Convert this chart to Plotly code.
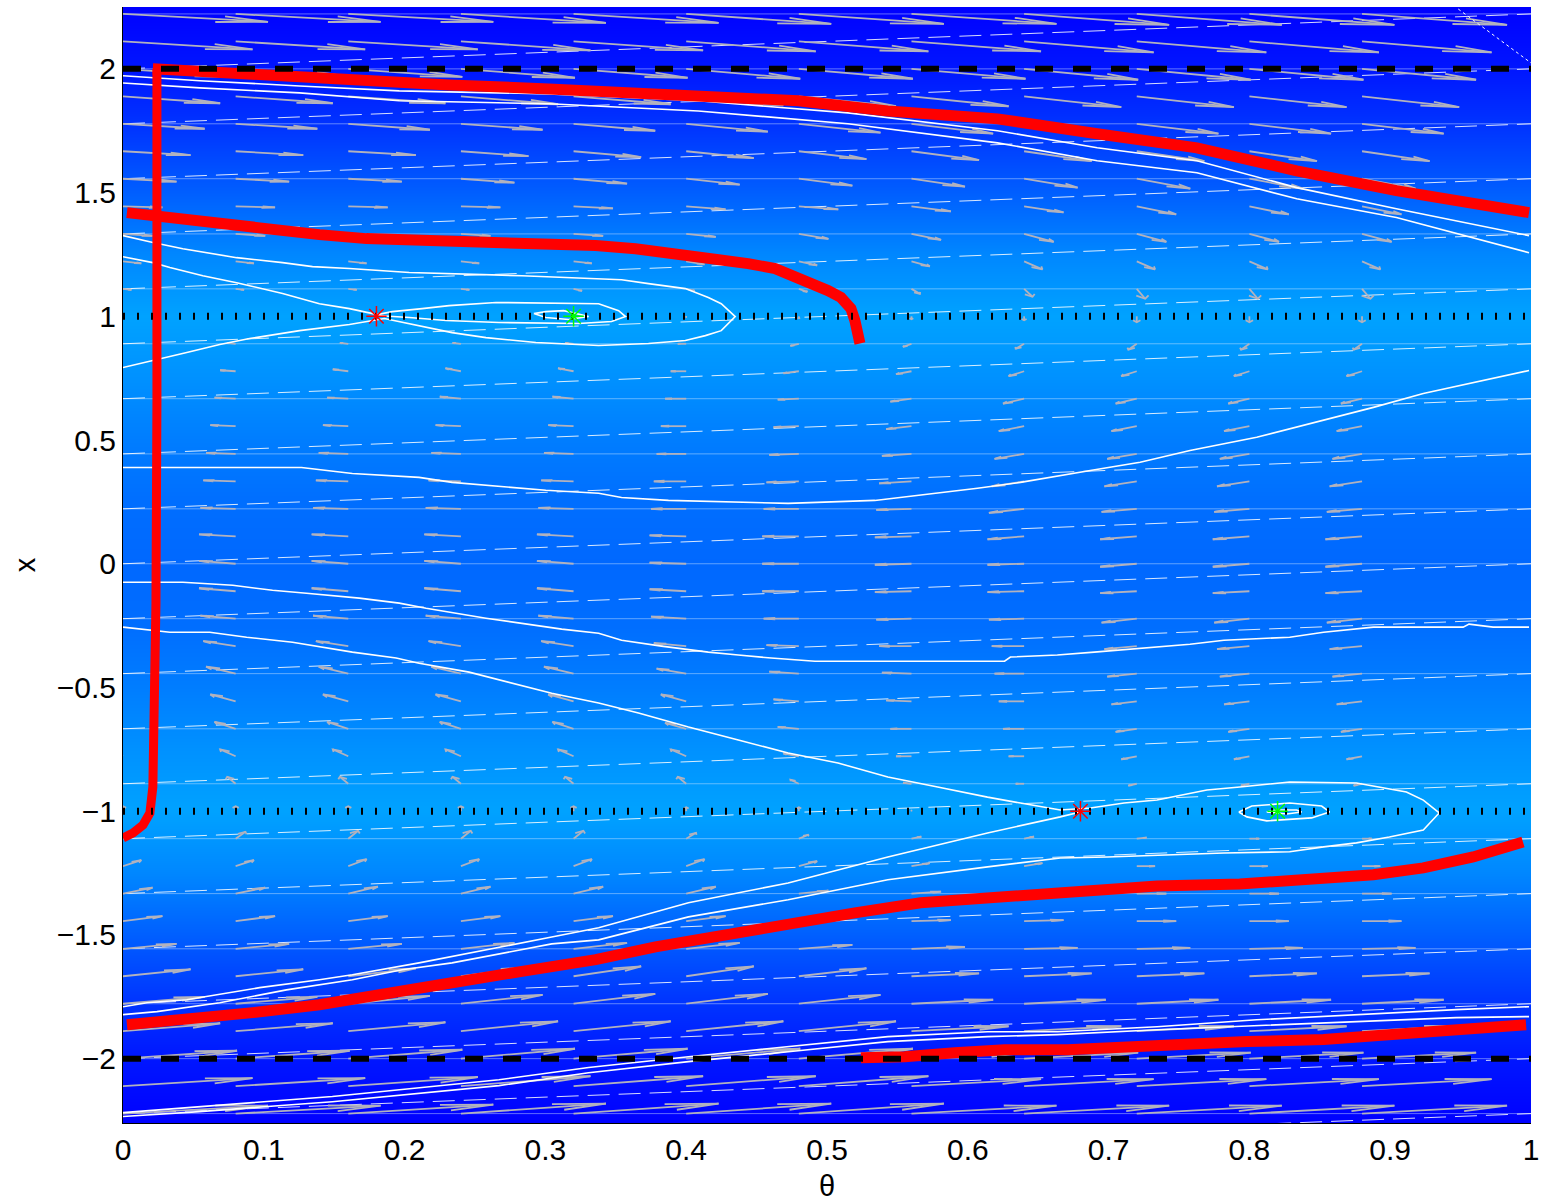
import plotly.graph_objects as go

# ---------------- background (blue -> cyan level vs x) ----------------
bg_x = [-2.26, -2.0, -1.75, -1.5, -1.25, -1.0, -0.75, -0.5, -0.25, 0.0,
        0.25, 0.5, 0.75, 1.0, 1.25, 1.5, 1.75, 2.0, 2.25]
bg_level = [0, 22, 55, 95, 135, 162, 145, 125, 110, 104,
            110, 125, 145, 162, 135, 95, 55, 22, 0]

# mesh seams of the shaded surface
seam_x = [-2.444, -2.222, -2.0, -1.778, -1.556, -1.333, -1.111, -0.889, -0.667,
          -0.444, -0.222, 0.0, 0.222, 0.444, 0.667, 0.889, 1.111, 1.333, 1.556,
          1.778, 2.0, 2.222]

# ---------------- quiver field ----------------
arrow_theta = [0.0, 0.08, 0.16, 0.24, 0.32, 0.40, 0.48, 0.56, 0.64, 0.72, 0.80, 0.88]
arrow_x = [2.222, 2.111, 2.0, 1.889, 1.778, 1.667, 1.556, 1.444, 1.333, 1.222,
           1.111, 1.0, 0.889, 0.778, 0.667, 0.556, 0.444, 0.333, 0.222, 0.111,
           0.0, -0.111, -0.222, -0.333, -0.444, -0.556, -0.667, -0.778, -0.889,
           -1.0, -1.111, -1.222, -1.333, -1.444, -1.556, -1.667, -1.778, -1.889,
           -2.0, -2.111, -2.222]
arrow_dtheta = [0.103, 0.092, 0.081, 0.069, 0.058, 0.048, 0.038, 0.028, 0.021, 0.013,
                0.006, 0.0, -0.006, -0.011, -0.015, -0.018, -0.021, -0.023, -0.025, -0.026,
                -0.026, -0.026, -0.025, -0.023, -0.021, -0.018, -0.015, -0.011, -0.006,
                0.0, 0.007, 0.013, 0.021, 0.028, 0.038, 0.048, 0.058, 0.069, 0.081,
                0.092, 0.103]
arrow_dx = [
    [-0.032, -0.032, -0.032, -0.036, -0.036, -0.040, -0.040, -0.040, -0.044, -0.044, -0.044, -0.044],
    [-0.032, -0.032, -0.032, -0.036, -0.036, -0.040, -0.040, -0.040, -0.044, -0.044, -0.044, -0.044],
    [-0.032, -0.032, -0.032, -0.036, -0.036, -0.040, -0.040, -0.040, -0.044, -0.044, -0.044, -0.044],
    [-0.028, -0.028, -0.028, -0.032, -0.032, -0.036, -0.040, -0.040, -0.044, -0.044, -0.044, -0.044],
    [-0.020, -0.020, -0.024, -0.024, -0.028, -0.032, -0.036, -0.040, -0.040, -0.040, -0.040, -0.040],
    [-0.016, -0.016, -0.016, -0.020, -0.024, -0.028, -0.032, -0.036, -0.040, -0.040, -0.040, -0.040],
    [-0.012, -0.012, -0.012, -0.016, -0.020, -0.024, -0.028, -0.032, -0.036, -0.040, -0.040, -0.040],
    [-0.004, -0.004, -0.004, -0.004, -0.008, -0.012, -0.012, -0.020, -0.024, -0.032, -0.032, -0.032],
    [-0.008, -0.008, -0.008, -0.008, -0.008, -0.012, -0.020, -0.024, -0.032, -0.032, -0.032, -0.032],
    [-0.008, -0.008, -0.008, -0.008, -0.008, -0.012, -0.016, -0.020, -0.032, -0.032, -0.032, -0.032],
    [-0.004, -0.004, -0.004, -0.004, -0.008, -0.008, -0.012, -0.020, -0.032, -0.040, -0.040, -0.040],
    [0.0, 0.0, 0.0, 0.0, 0.0, -0.004, -0.008, -0.012, -0.016, -0.024, -0.024, -0.024],
    [0.004, 0.004, 0.004, 0.004, 0.004, 0.0, -0.008, -0.012, -0.020, -0.024, -0.024, -0.024],
    [0.004, 0.004, 0.008, 0.012, 0.012, 0.0, -0.008, -0.012, -0.020, -0.020, -0.020, -0.020],
    [0.004, 0.004, 0.004, 0.008, 0.008, 0.0, -0.004, -0.012, -0.020, -0.020, -0.020, -0.020],
    [0.004, 0.004, 0.004, 0.004, 0.004, 0.0, -0.004, -0.012, -0.020, -0.020, -0.020, -0.020],
    [0.004, 0.004, 0.004, 0.004, 0.004, 0.0, -0.004, -0.008, -0.020, -0.020, -0.020, -0.020],
    [0.004, 0.004, 0.004, 0.004, 0.004, 0.0, -0.004, -0.008, -0.020, -0.020, -0.020, -0.020],
    [0.004, 0.004, 0.004, 0.004, 0.004, 0.0, 0.0, -0.004, -0.016, -0.012, -0.012, -0.012],
    [0.008, 0.008, 0.008, 0.008, 0.008, 0.004, 0.0, -0.004, -0.012, -0.012, -0.012, -0.012],
    [0.012, 0.012, 0.012, 0.012, 0.012, 0.004, 0.0, -0.004, -0.004, -0.012, -0.012, -0.012],
    [0.012, 0.012, 0.012, 0.012, 0.012, 0.008, 0.0, -0.004, -0.004, -0.008, -0.008, -0.008],
    [0.012, 0.012, 0.012, 0.012, 0.012, 0.008, 0.0, -0.004, -0.004, -0.016, -0.016, -0.016],
    [0.020, 0.020, 0.020, 0.020, 0.020, 0.012, 0.004, 0.0, 0.0, -0.012, -0.012, -0.012],
    [0.028, 0.028, 0.028, 0.028, 0.028, 0.020, 0.008, 0.004, 0.0, -0.012, -0.012, -0.012],
    [0.028, 0.028, 0.028, 0.028, 0.028, 0.028, 0.008, 0.004, 0.0, -0.012, -0.012, -0.012],
    [0.028, 0.028, 0.028, 0.028, 0.028, 0.024, 0.008, 0.0, 0.0, -0.012, -0.012, -0.012],
    [0.028, 0.028, 0.028, 0.028, 0.028, 0.028, 0.012, 0.0, 0.0, -0.012, -0.012, -0.012],
    [0.028, 0.028, 0.028, 0.028, 0.028, 0.028, 0.016, 0.004, 0.0, -0.008, -0.008, -0.008],
    [0.020, 0.020, 0.020, 0.020, 0.020, 0.016, 0.016, 0.004, 0.0, 0.0, 0.0, 0.0],
    [0.028, 0.028, 0.032, 0.032, 0.032, 0.024, 0.016, 0.008, 0.008, 0.004, 0.0, 0.0],
    [0.024, 0.024, 0.028, 0.028, 0.028, 0.028, 0.020, 0.012, 0.012, 0.0, 0.0, 0.0],
    [0.024, 0.024, 0.028, 0.028, 0.028, 0.028, 0.012, 0.008, 0.008, 0.0, 0.0, 0.0],
    [0.020, 0.020, 0.020, 0.020, 0.020, 0.020, 0.012, 0.004, 0.004, 0.0, 0.0, 0.0],
    [0.020, 0.020, 0.020, 0.024, 0.024, 0.024, 0.016, 0.008, 0.004, 0.004, 0.004, 0.004],
    [0.028, 0.028, 0.032, 0.036, 0.040, 0.040, 0.032, 0.012, 0.012, 0.012, 0.012, 0.012],
    [0.028, 0.028, 0.032, 0.036, 0.040, 0.040, 0.036, 0.016, 0.016, 0.016, 0.016, 0.016],
    [0.032, 0.032, 0.036, 0.040, 0.040, 0.040, 0.040, 0.020, 0.020, 0.020, 0.020, 0.020],
    [0.032, 0.032, 0.036, 0.040, 0.040, 0.040, 0.040, 0.024, 0.024, 0.024, 0.024, 0.024],
    [0.032, 0.032, 0.036, 0.040, 0.040, 0.040, 0.040, 0.028, 0.028, 0.028, 0.028, 0.028],
    [0.032, 0.032, 0.036, 0.040, 0.040, 0.040, 0.040, 0.032, 0.032, 0.032, 0.032, 0.032],
]

# ---------------- white contour lines ----------------
contour_top_a_t = [0, 0.0545, 0.1254, 0.1962, 0.3024, 0.4086, 0.5149, 0.6211, 0.6919, 0.7627, 0.8336, 0.9044, 0.9986]
contour_top_a_x = [1.972, 1.952, 1.931, 1.911, 1.899, 1.871, 1.822, 1.75, 1.681, 1.629, 1.52, 1.435, 1.326]
contour_top_b_t = [0, 0.0545, 0.1254, 0.1962, 0.3024, 0.4086, 0.5149, 0.6211, 0.6919, 0.7627, 0.8336, 0.9044, 0.9986]
contour_top_b_x = [1.943, 1.923, 1.903, 1.871, 1.859, 1.83, 1.778, 1.701, 1.629, 1.58, 1.475, 1.399, 1.257]

contour_oval_up_t = [0, 0.0212, 0.0425, 0.0807, 0.1133, 0.1346, 0.1608, 0.2033, 0.2833, 0.3378, 0.3541,
                     0.3732, 0.3994, 0.4157, 0.4249, 0.4348, 0.4249, 0.4136, 0.3994, 0.3732, 0.3378,
                     0.2932, 0.2578, 0.2337, 0.2033, 0.1856, 0.1608, 0.1254, 0.0899, 0.0687, 0.0453,
                     0.0212, 0]
contour_oval_up_x = [1.326, 1.298, 1.273, 1.237, 1.217, 1.201, 1.193, 1.177, 1.164, 1.152, 1.148,
                     1.132, 1.112, 1.076, 1.051, 0.999, 0.942, 0.922, 0.902, 0.89, 0.882,
                     0.894, 0.914, 0.934, 0.971, 0.991, 0.967, 0.942, 0.91, 0.886, 0.854,
                     0.821, 0.793]
contour_lobe_up_t = [0, 0.0212, 0.0333, 0.0567, 0.0807, 0.1133, 0.1395, 0.1608, 0.1806, 0.1912, 0.2125,
                     0.2316, 0.2649, 0.3378, 0.352, 0.3569, 0.347, 0.3237, 0.267, 0.2295, 0.2033, 0.1806]
contour_lobe_up_x = [1.241, 1.217, 1.197, 1.164, 1.136, 1.092, 1.051, 1.031, 1.007, 1.019, 1.031,
                     1.043, 1.056, 1.051, 1.023, 0.999, 0.979, 0.971, 0.975, 0.983, 0.995, 1.003]
contour_inner_up_t = [0.2918, 0.3003, 0.313, 0.3307, 0.3166, 0.3003, 0.2918]
contour_inner_up_x = [1.011, 1.019, 1.023, 0.999, 0.987, 0.995, 1.011]

contour_mid_a_t = [0, 0.1268, 0.1629, 0.2103, 0.2337, 0.2578, 0.3003, 0.3378, 0.3541, 0.3874, 0.449,
                   0.4724, 0.534, 0.5644, 0.5857, 0.6069, 0.6374, 0.6657, 0.687, 0.7224, 0.7578,
                   0.8052, 0.8527, 0.8881, 0.9235, 0.9589, 0.9986]
contour_mid_a_x = [0.389, 0.389, 0.365, 0.349, 0.329, 0.317, 0.297, 0.285, 0.268, 0.256, 0.248,
                   0.244, 0.256, 0.276, 0.289, 0.305, 0.329, 0.357, 0.377, 0.41, 0.458,
                   0.511, 0.579, 0.632, 0.688, 0.733, 0.781]
contour_mid_b_t = [0, 0.0425, 0.0779, 0.1062, 0.1303, 0.1678, 0.1962, 0.2153, 0.2578, 0.2932, 0.3116,
                   0.3378, 0.3541, 0.3824, 0.4157, 0.437, 0.4603, 0.4915, 0.6261, 0.6303, 0.6636,
                   0.6898, 0.7344, 0.7578, 0.7819, 0.8286, 0.8527, 0.8881, 0.9518, 0.956, 0.9731, 0.9986]
contour_mid_b_x = [-0.075, -0.075, -0.087, -0.107, -0.119, -0.139, -0.159, -0.18, -0.22, -0.248, -0.264,
                   -0.281, -0.309, -0.333, -0.357, -0.369, -0.381, -0.394, -0.394, -0.377, -0.369,
                   -0.357, -0.337, -0.325, -0.309, -0.297, -0.277, -0.256, -0.256, -0.244, -0.256, -0.256]

contour_low_saddle_t = [0, 0.017, 0.0453, 0.0737, 0.097, 0.1395, 0.1629, 0.2103, 0.2337, 0.2691, 0.3045,
                        0.3378, 0.4016, 0.4724, 0.5432, 0.614, 0.6657, 0.6799]
contour_low_saddle_x = [-1.79, -1.774, -1.762, -1.734, -1.713, -1.681, -1.661, -1.613, -1.588, -1.548, -1.508,
                        -1.471, -1.37, -1.29, -1.185, -1.088, -1.023, -1.003]
contour_oval_low_t = [0, 0.0241, 0.0687, 0.1161, 0.1629, 0.1983, 0.2337, 0.2812, 0.3045, 0.3378, 0.4016,
                      0.4724, 0.5432, 0.614, 0.6657, 0.699, 0.7819, 0.8286, 0.8527, 0.876, 0.8994,
                      0.9235, 0.9348, 0.9235, 0.9115, 0.876, 0.8286, 0.7932, 0.7698, 0.7344, 0.711,
                      0.687, 0.6657, 0.6374, 0.614, 0.5786, 0.5432, 0.5078, 0.4724, 0.437, 0.4016,
                      0.3661, 0.3378, 0.3045, 0.2691, 0.2458, 0.2103, 0.194, 0.1629, 0.1204, 0.0878,
                      0.0616, 0.0333, 0]
contour_oval_low_x = [-1.822, -1.81, -1.774, -1.722, -1.681, -1.641, -1.613, -1.56, -1.536, -1.52, -1.427,
                      -1.358, -1.277, -1.225, -1.189, -1.185, -1.169, -1.164, -1.144, -1.128, -1.104,
                      -1.076, -1.007, -0.955, -0.922, -0.886, -0.882, -0.902, -0.914, -0.955, -0.967,
                      -0.987, -0.995, -0.967, -0.943, -0.902, -0.862, -0.805, -0.765, -0.712, -0.66,
                      -0.603, -0.563, -0.523, -0.47, -0.438, -0.402, -0.381, -0.357, -0.317, -0.297,
                      -0.277, -0.277, -0.256]
contour_loop_low_t = [0.7925, 0.8017, 0.8286, 0.8513, 0.8569, 0.8442, 0.8123, 0.7982, 0.7925]
contour_loop_low_x = [-1.003, -0.979, -0.967, -0.979, -1.003, -1.027, -1.039, -1.023, -1.003]
contour_inner_low_t = [0.8123, 0.8194, 0.8336, 0.8371, 0.8265, 0.8123]
contour_inner_low_x = [-1.003, -0.995, -0.995, -1.003, -1.011, -1.003]

contour_bot_a_t = [0, 0.0545, 0.1487, 0.267, 0.3307, 0.4016, 0.4724, 0.5432, 0.614, 0.6636, 0.7344, 0.8052, 0.9469, 0.9986]
contour_bot_a_x = [-2.218, -2.194, -2.153, -2.085, -2.036, -1.992, -1.952, -1.911, -1.891, -1.891, -1.871, -1.843, -1.802, -1.79]
contour_bot_b_t = [0, 0.0545, 0.1487, 0.267, 0.3307, 0.4016, 0.4724, 0.5432, 0.614, 0.6636, 0.7344, 0.8052, 0.9469, 0.9986]
contour_bot_b_x = [-2.234, -2.214, -2.174, -2.109, -2.057, -2.012, -1.972, -1.931, -1.911, -1.903, -1.883, -1.867, -1.834, -1.83]
contour_corner_t = [0.9483, 1.0]
contour_corner_x = [2.242, 2.024]

# ---------------- red curves ----------------
red_vert_t = [0, 0.0071, 0.0142, 0.0191, 0.0212, 0.0227, 0.0234, 0.0241, 0.0241, 0.0241]
red_vert_x = [-1.108, -1.088, -1.056, -1.007, -0.902, -0.563, -0.159, 0.66, 1.467, 2.0]
red_top_t = [0.0212, 0.0475, 0.0829, 0.1254, 0.1799, 0.2316, 0.3024, 0.3732, 0.444, 0.4795, 0.5432,
             0.6211, 0.6919, 0.7627, 0.8336, 0.9044, 0.9986]
red_top_x = [2.0, 1.992, 1.972, 1.96, 1.952, 1.935, 1.919, 1.903, 1.887, 1.871, 1.83,
             1.798, 1.738, 1.681, 1.588, 1.508, 1.419]
red_upper_t = [0.0028, 0.0212, 0.0545, 0.0878, 0.1112, 0.1395, 0.1728, 0.2295, 0.2904, 0.3357, 0.364,
               0.3895, 0.4178, 0.444, 0.4632, 0.4816, 0.5007, 0.5099, 0.517, 0.5198, 0.5234]
red_upper_x = [1.419, 1.407, 1.378, 1.358, 1.346, 1.33, 1.314, 1.306, 1.294, 1.286, 1.273,
               1.257, 1.233, 1.213, 1.193, 1.152, 1.104, 1.076, 1.031, 0.983, 0.89]
red_lower_t = [0.0028, 0.0453, 0.0921, 0.1395, 0.187, 0.2337, 0.2812, 0.3357, 0.3782, 0.4249, 0.4724,
               0.5198, 0.5666, 0.614, 0.6686, 0.7344, 0.7932, 0.8407, 0.8881, 0.9235, 0.9589, 0.9943]
red_lower_x = [-1.863, -1.843, -1.814, -1.782, -1.742, -1.693, -1.649, -1.6, -1.548, -1.5, -1.459,
               -1.411, -1.37, -1.35, -1.326, -1.302, -1.294, -1.277, -1.257, -1.229, -1.185, -1.124]
red_bottom_t = [0.5241, 0.5552, 0.5907, 0.6261, 0.6707, 0.7344, 0.7982, 0.8527, 0.8994, 0.9348, 0.9703, 0.9965]
red_bottom_x = [-1.996, -1.992, -1.976, -1.964, -1.964, -1.943, -1.931, -1.923, -1.903, -1.891, -1.879, -1.863]

# ---------------- reference lines & fixed points ----------------
bound_levels = [2.0, -2.0]
well_levels = [1.0, -1.0]
saddle_t = [0.18, 0.68]
saddle_x = [1.0, -1.0]
node_t = [0.32, 0.82]
node_x = [1.0, -1.0]

x_ticks = [0, 0.1, 0.2, 0.3, 0.4, 0.5, 0.6, 0.7, 0.8, 0.9, 1]
x_tick_text = ['0', '0.1', '0.2', '0.3', '0.4', '0.5', '0.6', '0.7', '0.8', '0.9', '1']
y_ticks = [-2, -1.5, -1, -0.5, 0, 0.5, 1, 1.5, 2]
y_tick_text = ['\u22122', '\u22121.5', '\u22121', '\u22120.5', '0', '0.5', '1', '1.5', '2']

FONT = 'Liberation Sans, Arial, Helvetica, sans-serif'

fig = go.Figure()

fig.add_trace(go.Heatmap(
    x=[0, 1], y=bg_x, z=[[v, v] for v in bg_level],
    colorscale=[[0, 'rgb(0,0,255)'], [1, 'rgb(0,255,255)']],
    zmin=0, zmax=255, zsmooth='best', showscale=False, hoverinfo='skip'))

# seams
hx, hy = [], []
for s in seam_x:
    hx += [0, 1, None]
    hy += [s, s, None]
fig.add_trace(go.Scatter(x=hx, y=hy, mode='lines', hoverinfo='skip',
                         line=dict(color='rgba(215,235,255,0.45)', width=1)))
dgx, dgy = [], []
for a, b in zip(seam_x[:-1], seam_x[1:]):
    dgx += [0, 1, None]
    dgy += [a, b, None]
fig.add_trace(go.Scatter(x=dgx, y=dgy, mode='lines', hoverinfo='skip',
                         line=dict(color='rgba(255,255,255,0.85)', width=1, dash='22px,9px')))

# arrows (MATLAB-style heads computed in data units)
alpha, beta = 0.33, 0.33
ax_, ay_ = [], []
for i, x0 in enumerate(arrow_x):
    u = arrow_dtheta[i]
    for j, t0 in enumerate(arrow_theta):
        v = arrow_dx[i][j]
        if u == 0 and v == 0:
            continue
        tt, tx = t0 + u, x0 + v
        ax_ += [t0, tt, None]
        ay_ += [x0, tx, None]
        b1t = tt - alpha * (u + beta * v)
        b1x = tx - alpha * (v - beta * u)
        b2t = tt - alpha * (u - beta * v)
        b2x = tx - alpha * (v + beta * u)
        ax_ += [b1t, tt, b2t, None]
        ay_ += [b1x, tx, b2x, None]
fig.add_trace(go.Scatter(x=ax_, y=ay_, mode='lines', hoverinfo='skip',
                         line=dict(color='rgb(178,178,190)', width=1.8)))

# contours
contours = [
    (contour_top_a_t, contour_top_a_x), (contour_top_b_t, contour_top_b_x),
    (contour_oval_up_t, contour_oval_up_x), (contour_lobe_up_t, contour_lobe_up_x),
    (contour_inner_up_t, contour_inner_up_x),
    (contour_mid_a_t, contour_mid_a_x), (contour_mid_b_t, contour_mid_b_x),
    (contour_low_saddle_t, contour_low_saddle_x), (contour_oval_low_t, contour_oval_low_x),
    (contour_loop_low_t, contour_loop_low_x), (contour_inner_low_t, contour_inner_low_x),
    (contour_bot_a_t, contour_bot_a_x), (contour_bot_b_t, contour_bot_b_x),
]
for ct, cx in contours:
    fig.add_trace(go.Scatter(x=ct, y=cx, mode='lines', hoverinfo='skip',
                             line=dict(color='white', width=1.6)))
fig.add_trace(go.Scatter(x=contour_corner_t, y=contour_corner_x, mode='lines', hoverinfo='skip',
                         line=dict(color='white', width=1, dash='dot')))

# red curves
fig.add_trace(go.Scatter(x=red_vert_t, y=red_vert_x, mode='lines', hoverinfo='skip',
                         line=dict(color='red', width=9)))
for rt, rx in [(red_top_t, red_top_x), (red_upper_t, red_upper_x),
               (red_lower_t, red_lower_x), (red_bottom_t, red_bottom_x)]:
    fig.add_trace(go.Scatter(x=rt, y=rx, mode='lines', hoverinfo='skip',
                             line=dict(color='red', width=11)))

# black reference lines
for lv in bound_levels:
    fig.add_trace(go.Scatter(x=[0, 1], y=[lv, lv], mode='lines', hoverinfo='skip',
                             line=dict(color='black', width=6, dash='18px,20px')))
for lv in well_levels:
    fig.add_trace(go.Scatter(x=[0, 1], y=[lv, lv], mode='lines', hoverinfo='skip',
                             line=dict(color='black', width=7, dash='2px,12px')))

# fixed points
fig.add_trace(go.Scatter(x=saddle_t, y=saddle_x, mode='markers', hoverinfo='skip',
                         marker=dict(symbol='asterisk-open', size=17, color='red',
                                     line=dict(color='red', width=1.5))))
fig.add_trace(go.Scatter(x=node_t, y=node_x, mode='markers', hoverinfo='skip',
                         marker=dict(symbol='asterisk-open', size=17, color='rgb(0,255,0)',
                                     line=dict(color='rgb(0,255,0)', width=1.5))))

fig.update_layout(
    width=1546, height=1203,
    margin=dict(l=123, r=11, t=7, b=80),
    paper_bgcolor='white', plot_bgcolor='white',
    showlegend=False,
    font=dict(family=FONT, size=30, color='black'),
)
fig.update_xaxes(range=[0, 1], tickvals=x_ticks, ticktext=x_tick_text,
                 showgrid=False, zeroline=False, showline=True, linecolor='black', linewidth=1,
                 ticks='', tickfont=dict(family=FONT, size=30, color='black'),
                 title=dict(text='\u03b8', font=dict(family=FONT, size=29, color='black'), standoff=10))
fig.update_yaxes(range=[-2.26, 2.25], tickvals=y_ticks, ticktext=y_tick_text,
                 showgrid=False, zeroline=False, showline=True, linecolor='black', linewidth=1,
                 ticks='', tickfont=dict(family=FONT, size=30, color='black'),
                 title=dict(text='x', font=dict(family=FONT, size=29, color='black'), standoff=12))

fig.write_html("out.html")
